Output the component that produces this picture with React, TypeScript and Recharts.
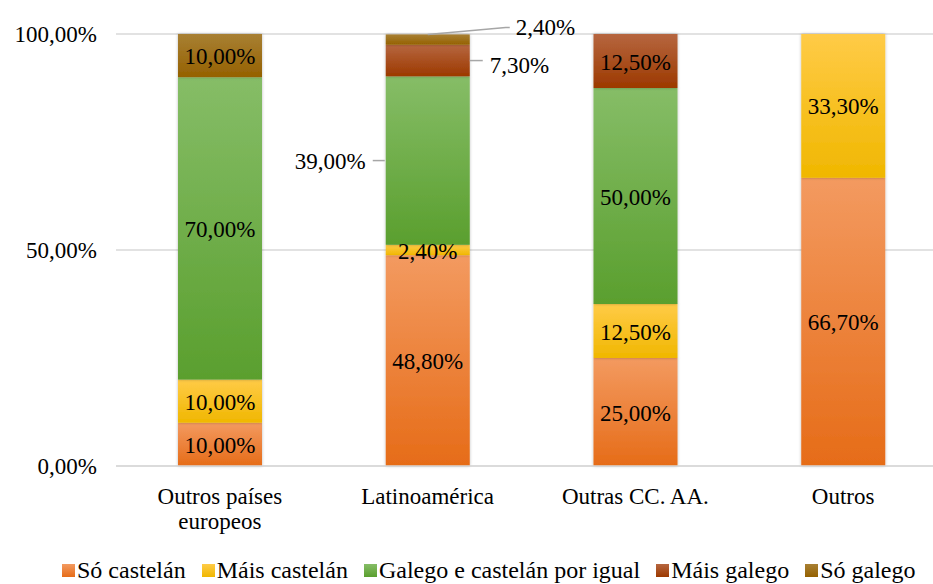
import { Bar, BarChart, CartesianGrid, LabelList, Legend, XAxis, YAxis } from "recharts";

const categories = ["Outros países europeos", "Latinoamérica", "Outras CC. AA.", "Outros"];
const soCastelan = [10, 48.8, 25, 66.7];
const maisCastelan = [10, 2.4, 12.5, 33.3];
const galegoIgual = [70, 39, 50, 0];
const maisGalego = [0, 7.3, 12.5, 0];
const soGalego = [10, 2.4, 0, 0];
const yTicks = [0, 50, 100];

const FONT = '"Liberation Serif", "Times New Roman", serif';

const series = [
  { key: "soCastelan", name: "Só castelán", top: "#F39A60", bottom: "#E66C18" },
  { key: "maisCastelan", name: "Máis castelán", top: "#FFCB47", bottom: "#F0B700" },
  { key: "galegoIgual", name: "Galego e castelán por igual", top: "#86BD67", bottom: "#5A9F2E" },
  { key: "maisGalego", name: "Máis galego", top: "#B6663F", bottom: "#9C3900" },
  { key: "soGalego", name: "Só galego", top: "#A88034", bottom: "#956100" },
];

const data = categories.map((c, i) => ({
  categoria: c,
  soCastelan: soCastelan[i],
  maisCastelan: maisCastelan[i],
  galegoIgual: galegoIgual[i],
  maisGalego: maisGalego[i],
  soGalego: soGalego[i],
}));

const pct = (v: number) => v.toFixed(2).replace(".", ",") + "%";

function wrapWords(s: string, maxChars: number) {
  const lines: string[] = [];
  let cur = "";
  for (const w of s.split(" ")) {
    const next = cur ? cur + " " + w : w;
    if (next.length > maxChars && cur) {
      lines.push(cur);
      cur = w;
    } else {
      cur = next;
    }
  }
  if (cur) lines.push(cur);
  return lines;
}

function makeLabel(seriesKey: string) {
  return (p: any) => {
    const vb = p.viewBox ?? {};
    const x = Number(p.x ?? vb.x);
    const y = Number(p.y ?? vb.y);
    const width = Number(p.width ?? vb.width);
    const height = Number(p.height ?? vb.height);
    const value = Number(p.value);
    if (!value) return null;
    const cx = x + width / 2;
    const cy = y + height / 2;
    const txt = { fontFamily: FONT, fontSize: 23, fill: "#000" };
    // Latinoamérica: small segments get callouts outside the bar
    if (p.index === 1 && seriesKey === "galegoIgual") {
      return (
        <g>
          <line x1={x - 13} y1={cy} x2={x - 1} y2={cy} stroke="#A6A6A6" strokeWidth={1.5} />
          <text x={x - 20} y={cy + 1} textAnchor="end" dominantBaseline="central" {...txt}>
            {pct(value)}
          </text>
        </g>
      );
    }
    if (p.index === 1 && seriesKey === "maisGalego") {
      return (
        <g>
          <line x1={x + width} y1={cy} x2={x + width + 13} y2={cy} stroke="#A6A6A6" strokeWidth={1.5} />
          <text x={x + width + 20} y={cy + 5} textAnchor="start" dominantBaseline="central" {...txt}>
            {pct(value)}
          </text>
        </g>
      );
    }
    if (p.index === 1 && seriesKey === "soGalego") {
      return (
        <g>
          <polyline
            points={`${cx},${y} ${cx + 78},${y - 7} ${cx + 82},${y - 7}`}
            fill="none"
            stroke="#A6A6A6"
            strokeWidth={1.5}
          />
          <text x={cx + 88} y={y - 7} textAnchor="start" dominantBaseline="central" {...txt}>
            {pct(value)}
          </text>
        </g>
      );
    }
    return (
      <text x={cx} y={cy + 1} textAnchor="middle" dominantBaseline="central" {...txt}>
        {pct(value)}
      </text>
    );
  };
}

function makeShape(seriesKey: string) {
  return (p: any) => {
    if (!p.height || p.height <= 0) return <g />;
    return (
      <rect
        x={p.x}
        y={p.y}
        width={p.width}
        height={p.height}
        fill={`url(#grad-${seriesKey})`}
        filter="url(#barShadow)"
      />
    );
  };
}

function CategoryTick(p: any) {
  const lines = wrapWords(String(p.payload.value), 14);
  return (
    <text x={p.x} y={p.y} textAnchor="middle" fontFamily={FONT} fontSize={23} fill="#000">
      {lines.map((l, i) => (
        <tspan key={i} x={p.x} dy={i === 0 ? "0.71em" : 25}>
          {l}
        </tspan>
      ))}
    </text>
  );
}

function LegendContent() {
  return (
    <div style={{ display: "flex", alignItems: "center", paddingLeft: 62, fontFamily: FONT, fontSize: 24, color: "#000", whiteSpace: "nowrap" }}>
      {series.map((s) => (
        <div key={s.key} style={{ display: "flex", alignItems: "center", marginRight: 16 }}>
          <span
            style={{
              display: "inline-block",
              width: 13,
              height: 13,
              marginRight: 2,
              background: `linear-gradient(${s.top}, ${s.bottom})`,
            }}
          />
          <span>{s.name}</span>
        </div>
      ))}
    </div>
  );
}

export default function App() {
  return (
    <div style={{ position: "absolute", left: 0, top: 0, width: 933, height: 584, overflow: "hidden", background: "#fff" }}>
      <svg width={0} height={0} style={{ position: "absolute" }}>
        <defs>
          {series.map((s) => (
            <linearGradient key={s.key} id={`grad-${s.key}`} x1="0" y1="0" x2="0" y2="1">
              <stop offset="0%" stopColor={s.top} />
              <stop offset="100%" stopColor={s.bottom} />
            </linearGradient>
          ))}
          <filter id="barShadow" x="-20%" y="-20%" width="140%" height="140%">
            <feDropShadow dx="0" dy="0" stdDeviation="1.8" floodColor="#000" floodOpacity="0.28" />
          </filter>
        </defs>
      </svg>
      <BarChart
        width={950}
        height={584}
        data={data}
        margin={{ top: 34, right: 3, bottom: 0, left: 0 }}
        barSize={84}
      >
        <CartesianGrid horizontal vertical={false} stroke="#D9D9D9" strokeWidth={1.3} />
        <XAxis
          dataKey="categoria"
          height={118}
          axisLine={{ stroke: "#D9D9D9", strokeWidth: 1.3 }}
          tickLine={false}
          tickSize={6}
          tickMargin={16}
          interval={0}
          tick={<CategoryTick />}
        />
        <YAxis
          width={116}
          domain={[0, 100]}
          ticks={yTicks}
          axisLine={false}
          tickLine={false}
          tickSize={6}
          tickMargin={13}
          tickFormatter={(v: number) => pct(v)}
          tick={{ fontFamily: FONT, fontSize: 23, fill: "#000" }}
        />
        <Legend
          layout="horizontal"
          verticalAlign="middle"
          align="center"
          wrapperStyle={{ left: 0, top: 557, width: 933 }}
          content={<LegendContent />}
        />
        {series.map((s) => (
          <Bar
            key={s.key}
            dataKey={s.key}
            name={s.name}
            stackId="a"
            isAnimationActive={false}
            shape={makeShape(s.key)}
          >
            <LabelList dataKey={s.key} content={makeLabel(s.key)} />
          </Bar>
        ))}
      </BarChart>
    </div>
  );
}
